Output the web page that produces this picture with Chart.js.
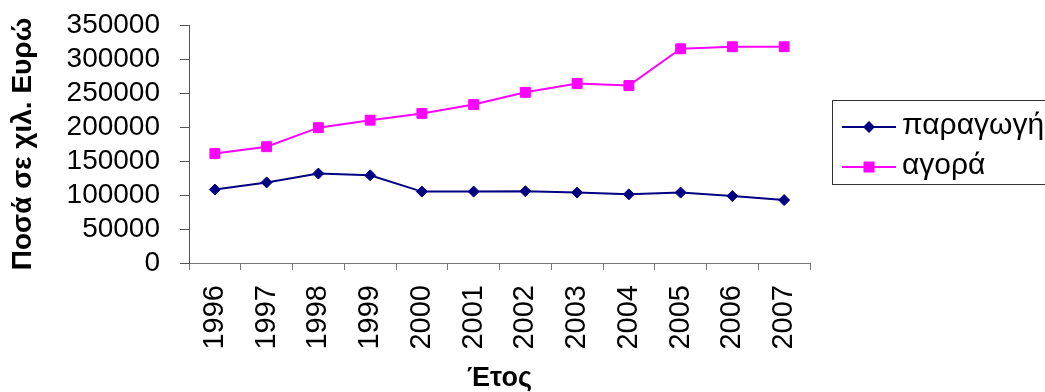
<!DOCTYPE html>
<html>
<head>
<meta charset="utf-8">
<script src="https://cdn.jsdelivr.net/npm/chart.js@4/dist/chart.umd.min.js"></script>
<style>
html,body{margin:0;padding:0;background:#fff;overflow:hidden;}
#wrap{width:1045px;height:392px;position:relative;}
</style>
</head>
<body>
<div id="wrap"><canvas id="c" width="1045" height="392"></canvas></div>
<script>
const years = ['1996','1997','1998','1999','2000','2001','2002','2003','2004','2005','2006','2007'];
const production = [108000,118500,131500,129000,105000,105000,105500,103500,101000,103500,98500,92500];
const market = [161000,171000,199000,210000,220000,233000,251000,264000,261000,315000,318000,318000];
const yTicks = ['0','50000','100000','150000','200000','250000','300000','350000'];
const seriesNames = ['παραγωγή','αγορά'];
const yTitle = 'Ποσά σε χιλ. Ευρώ';
const xTitle = 'Έτος';

const NAVY = '#000080', MAG = '#FF00FF';

const legendPlugin = {
  id: 'boxLegend',
  afterDraw(chart) {
    const ctx = chart.ctx, ca = chart.chartArea;
    const left = ca.right + 22;
    const top = 100, bottom = 184;
    ctx.save();
    ctx.strokeStyle = '#333';
    ctx.lineWidth = 1;
    ctx.strokeRect(Math.round(left) + 0.5, top + 0.5, 400, bottom - top);
    const rows = [
      {y: 127, color: NAVY, style: 'diamond', label: seriesNames[0]},
      {y: 167, color: MAG, style: 'square', label: seriesNames[1]}
    ];
    rows.forEach(r => {
      ctx.strokeStyle = r.color;
      ctx.lineWidth = 2;
      ctx.beginPath();
      ctx.moveTo(left + 10, r.y);
      ctx.lineTo(left + 64, r.y);
      ctx.stroke();
      const cx = left + 37;
      ctx.fillStyle = r.color;
      ctx.beginPath();
      if (r.style === 'diamond') {
        ctx.moveTo(cx - 6, r.y); ctx.lineTo(cx, r.y - 6);
        ctx.lineTo(cx + 6, r.y); ctx.lineTo(cx, r.y + 6);
        ctx.closePath();
      } else {
        ctx.rect(cx - 5.5, r.y - 5.5, 11, 11);
      }
      ctx.fill();
      ctx.fillStyle = '#000';
      ctx.font = '30px "Liberation Sans", Arial, sans-serif';
      ctx.textBaseline = 'middle';
      ctx.textAlign = 'left';
      ctx.fillText(r.label, left + 70, r.y - 1);
    });
    ctx.restore();
  }
};

new Chart(document.getElementById('c'), {
  type: 'line',
  data: {
    labels: years,
    datasets: [
      {label: seriesNames[0], data: production, borderColor: NAVY, backgroundColor: NAVY,
       borderWidth: 2, pointStyle: 'rectRot', pointRadius: 5.5, pointBorderWidth: 1,
       pointBackgroundColor: NAVY, pointBorderColor: NAVY, tension: 0, fill: false},
      {label: seriesNames[1], data: market, borderColor: MAG, backgroundColor: MAG,
       borderWidth: 2, pointStyle: 'rect', pointRadius: 7, pointBorderWidth: 1,
       pointBackgroundColor: MAG, pointBorderColor: MAG, tension: 0, fill: false}
    ]
  },
  options: {
    responsive: false,
    devicePixelRatio: 1,
    animation: false,
    layout: {padding: {left: 0, top: 25, right: 235, bottom: 0}},
    plugins: {legend: {display: false}, tooltip: {enabled: false}},
    scales: {
      x: {
        type: 'category',
        offset: true,
        grid: {offset: true, drawOnChartArea: false, drawTicks: true, tickLength: 7, color: '#777'},
        border: {display: true, color: '#777', width: 1},
        ticks: {autoSkip: false, minRotation: 90, maxRotation: 90, padding: 15, color: '#000',
                font: {family: '"Liberation Sans", Arial, sans-serif', size: 29}},
        title: {display: true, text: xTitle, color: '#000', padding: 0,
                font: {family: '"Liberation Sans", Arial, sans-serif', size: 27, weight: 'bold', lineHeight: 1}},
        afterFit(s) { s.height = 129; }
      },
      y: {
        min: 0, max: 350000,
        grid: {drawOnChartArea: false, drawTicks: true, tickLength: 9, color: '#555'},
        border: {display: true, color: '#555', width: 1},
        ticks: {stepSize: 50000, autoSkip: false, padding: 20, color: '#000',
                font: {family: '"Liberation Sans", Arial, sans-serif', size: 28, lineHeight: 1},
                callback: (v, i) => yTicks[i]},
        title: {display: true, text: yTitle, color: '#000', padding: {top: 9, bottom: 0},
                font: {family: '"Liberation Sans", Arial, sans-serif', size: 28, weight: 'bold', lineHeight: 1}},
        afterFit(s) { s.width = 189; s.paddingTop = 0; s.paddingBottom = 0; }
      }
    }
  },
  plugins: [legendPlugin]
});
</script>
</body>
</html>
